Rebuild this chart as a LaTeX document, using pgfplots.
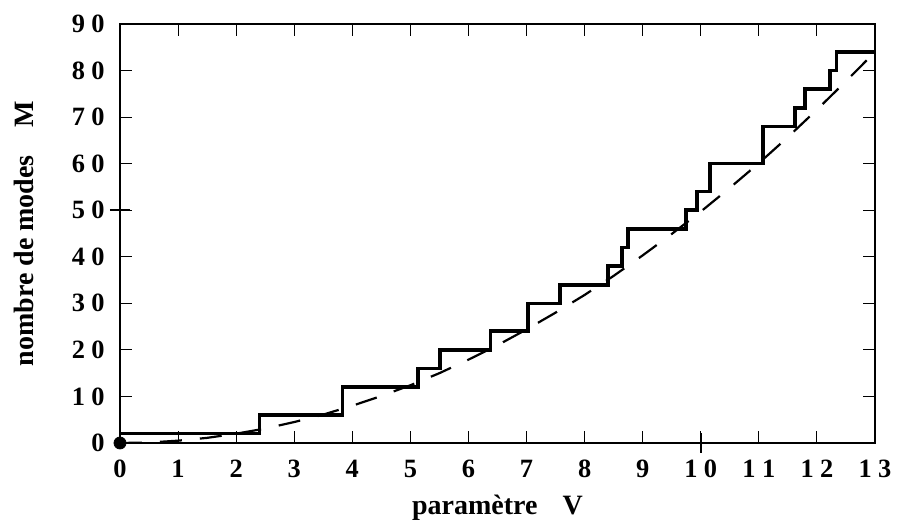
\documentclass[border=0pt]{standalone}
\usepackage{fontspec}
\setmainfont{Liberation Serif}
\usepackage{pgfplots}
\pgfplotsset{compat=1.18}
\newcommand{\dg}{\hspace{3.2pt}}
\begin{document}
\begin{tikzpicture}
\begin{axis}[
    scale only axis,
    width=377.5pt, height=209.5pt,
    xmin=0, xmax=13, ymin=0, ymax=90,
    xtick={0,1,...,13},
    ytick={0,10,...,90},
    xticklabels={0,1,2,3,4,5,6,7,8,9,1\dg0,1\dg1,1\dg2,1\dg3},
    yticklabels={0,1\dg0,2\dg0,3\dg0,4\dg0,5\dg0,6\dg0,7\dg0,8\dg0,9\dg0},
    tick align=inside,
    major tick length=6pt,
    tick style={line width=0.5pt, black},
    axis line style={line width=0.9pt},
    xticklabel style={anchor=base, yshift=-17.5pt, font=\fontsize{13.2}{15}\selectfont\bfseries},
    yticklabel style={anchor=east, inner sep=0pt, xshift=-7.5pt, font=\fontsize{13.2}{15}\selectfont\bfseries},
    xlabel={paramètre\hspace{0.9em}V},
    ylabel={nombre de modes\hspace{1em}M},
    xlabel style={at={(axis description cs:0.5,-0.1718)}, anchor=base, font=\fontsize{14}{16}\selectfont\bfseries},
    ylabel style={at={(axis description cs:-0.1152,0.5)}, anchor=base, font=\fontsize{14}{16}\selectfont\bfseries},
    extra x ticks={10}, extra x tick labels={},
    extra x tick style={xtick pos=bottom, tick align=center, major tick length=10pt, tick style={line width=1.1pt}},
    extra y ticks={50}, extra y tick labels={},
    extra y tick style={ytick pos=left, tick align=center, major tick length=10pt, tick style={line width=1.1pt}},
    clip=false,
]
% nombre de modes guides (marches)
\addplot[const plot, line width=1.8pt, black] coordinates {
    (0,2) (2.40,6) (3.83,12) (5.13,16) (5.51,20) (6.38,24) (7.02,30)
    (7.58,34) (8.40,38) (8.64,42) (8.75,46) (9.75,50) (9.94,54)
    (10.16,60) (11.07,68) (11.62,72) (11.79,76) (12.23,80) (12.34,84) (13,84)
};
% approximation continue
\addplot[line width=1.1pt, black, dash pattern=on 11pt off 9pt] coordinates {
    (0,0) (0.5,0.1) (1,0.5) (1.5,1.1) (2,2) (2.5,3.1) (3,4.5) (3.5,6.1)
    (4,8) (4.5,10.1) (5,12.4) (5.5,15) (6,17.9) (6.5,21) (7,24.4)
    (7.5,28) (8,31.8) (8.5,35.9) (9,40.3) (9.5,44.9) (10,49.7) (10.5,54.8)
    (11,60.1) (11.5,65.7) (12,71.6) (12.5,77.7) (13,84)
};
\addplot[only marks, mark=*, mark size=3pt, black] coordinates {(0,0)};
\end{axis}
\pgfresetboundingbox
\path[use as bounding box] ([xshift=-60pt,yshift=-39pt]current axis.south west) rectangle ([xshift=12pt,yshift=12pt]current axis.north east);
\end{tikzpicture}
\end{document}
